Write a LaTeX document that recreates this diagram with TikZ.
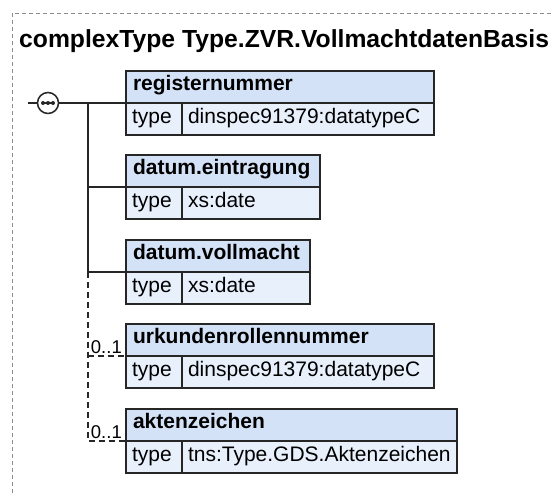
\documentclass[tikz,border=0pt]{standalone}
\usepackage{fontspec}
\setmainfont{Liberation Sans}
\usetikzlibrary{positioning}

\definecolor{hdrfill}{RGB}{212,226,248}
\definecolor{rowfill}{RGB}{232,240,252}
\definecolor{boxline}{RGB}{38,38,38}
\definecolor{frame}{RGB}{140,140,140}

\begin{document}
\begin{tikzpicture}[
  x=1pt, y=-1pt,
  font=\fontsize{21}{24}\selectfont,
  cell/.style={draw=boxline, line width=1.5pt, outer sep=0pt, inner ysep=0pt, align=left},
  hdr/.style={cell, fill=hdrfill, anchor=north west, inner xsep=7pt, text height=19pt, text depth=13pt, text width=#1, font=\fontsize{21}{24}\selectfont\bfseries},
  tcell/.style={cell, fill=rowfill, inner xsep=6pt, text height=20pt, text depth=12pt, text width=44pt},
  vcell/.style={cell, fill=rowfill, inner xsep=6pt, text height=20pt, text depth=12pt, text width=#1},
  conn/.style={draw=boxline, line width=1.3pt},
  opt/.style={conn, dash pattern=on 6pt off 4pt},
  card/.style={font=\fontsize{18.5}{20}\selectfont, inner sep=0pt, anchor=base east}]
  \useasboundingbox (0,0) rectangle (552,493);
  % outer frame of the complex type
  \draw[frame, line width=1pt, dash pattern=on 4pt off 3pt] (12,493) -- (12,13) -- (552,13);
  \node[anchor=base west, inner sep=0pt, font=\fontsize{24.7}{28}\selectfont\bfseries] (title) at (19,47) {complexType Type.ZVR.VollmachtdatenBasis};

  % sequence compositor
  \node[draw=boxline, fill=white, line width=1.5pt, circle, minimum size=21pt, inner sep=0pt] (seq) at (48,103) {};
  \draw[boxline, line width=1.5pt] ([xshift=-6pt]seq.center) -- ([xshift=6pt]seq.center);
  \fill[boxline] ([xshift=-5pt]seq.center) circle (2pt) (seq.center) circle (2pt) ([xshift=5pt]seq.center) circle (2pt);
  \coordinate (stub) at (28,103);
  \coordinate (trunk) at (88,103);

  % elements
  \node[hdr=294pt] (h1) at (126,71) {registernummer};
  \node[tcell, below right=0pt of h1.south west] (t1) {type};
  \node[vcell=240pt, right=0pt of t1] (v1) {dinspec91379:datatypeC};

  \node[hdr=180pt] (h2) at (126,155) {datum.eintragung};
  \node[tcell, below right=0pt of h2.south west] (t2) {type};
  \node[vcell=126pt, right=0pt of t2] (v2) {xs:date};

  \node[hdr=170pt] (h3) at (126,240) {datum.vollmacht};
  \node[tcell, below right=0pt of h3.south west] (t3) {type};
  \node[vcell=116pt, right=0pt of t3] (v3) {xs:date};

  \node[hdr=294pt] (h4) at (126,324) {urkundenrollennummer};
  \node[tcell, below right=0pt of h4.south west] (t4) {type};
  \node[vcell=240pt, right=0pt of t4] (v4) {dinspec91379:datatypeC};

  \node[hdr=317pt] (h5) at (126,409) {aktenzeichen};
  \node[tcell, below right=0pt of h5.south west] (t5) {type};
  \node[vcell=263pt, right=0pt of t5] (v5) {tns:Type.GDS.Aktenzeichen};

  % connectors
  \draw[conn] (stub) -- (seq.west);
  \draw[conn] (seq.east) -- (h1.south west);
  \draw[conn] (trunk) -- (trunk |- h3.south west) -- (h3.south west);
  \draw[conn] (trunk |- h2.south west) -- (h2.south west);
  \draw[opt] (trunk |- h3.south west) -- (trunk |- h5.south west) -- (h5.south west);
  \draw[opt] (trunk |- h4.south west) -- (h4.south west);
  \node[card] (c4) at ([xshift=-4pt, yshift=3pt]h4.south west) {0..1};
  \node[card] (c5) at ([xshift=-4pt, yshift=3pt]h5.south west) {0..1};
\end{tikzpicture}
\end{document}
